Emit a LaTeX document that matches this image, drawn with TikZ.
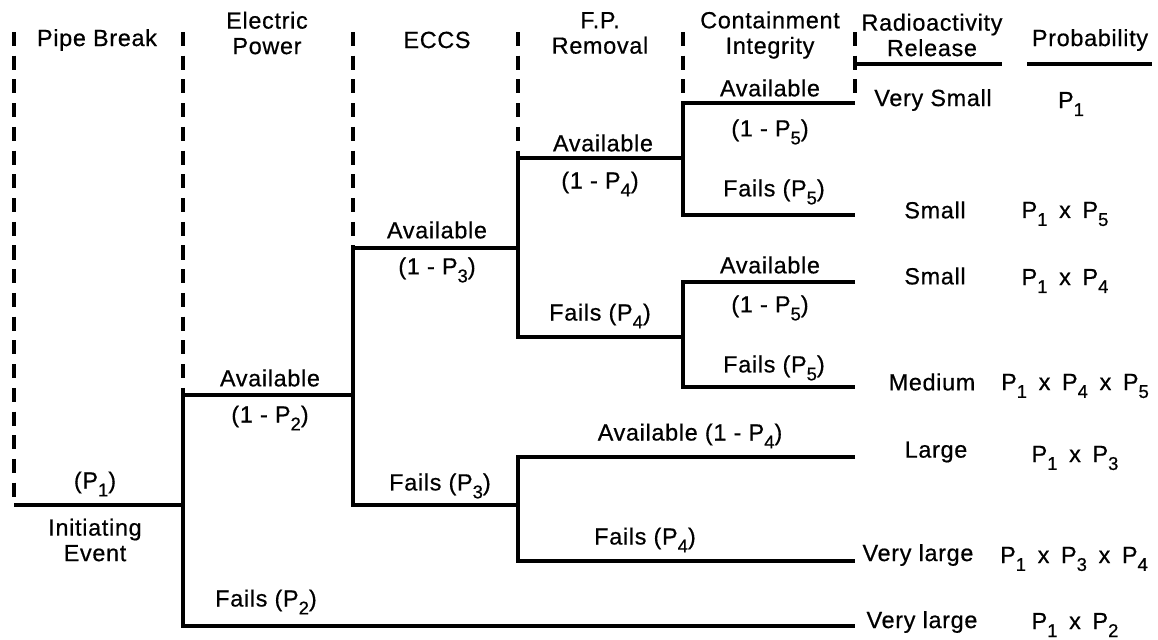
\documentclass[tikz,border=0pt]{standalone}
\usepackage{fontspec}
\setmainfont{Liberation Sans}[FakeBold=0.6, LetterSpace=3]
\usetikzlibrary{positioning,calc}
\newcommand{\Pn}[1]{P\raisebox{-4.5pt}{\fontsize{10.5}{10.5}\selectfont #1}}
\newcommand{\by}{\enspace x\enspace}
\tikzset{
    % Column dividers
    divider/.style={
        draw=black,
        line width=2pt,
        dash pattern=on 8pt off 5.5pt
    },
    % Branches of the tree
    branch/.style={
        draw=black,
        line width=2.1pt
    },
    % Column headings
    heading/.style={
        align=center,
        inner sep=0pt,
        font=\fontsize{13.3}{14.5}\selectfont
    },
    % Branch labels
    outcome/.style={
        align=center,
        inner sep=0pt,
        font=\fontsize{13.3}{14.5}\selectfont
    }
}

\begin{document}
\begin{tikzpicture}[x=0.02cm, y=-0.02cm]
    \useasboundingbox (0,0) rectangle (1158,639);

    % Tree points
    \coordinate (top) at (0,32);
    \coordinate (ie) at (14,505);
    \coordinate (s1) at (183,505);
    \coordinate (s2) at (353,395);
    \coordinate (s3) at (518,248);
    \coordinate (s4) at (518,505);
    \coordinate (s5) at (683,158);
    \coordinate (s6) at (683,337);
    \coordinate (e1) at (855,103);
    \coordinate (e2) at (855,215);
    \coordinate (e3) at (855,282);
    \coordinate (e4) at (855,387);
    \coordinate (e5) at (855,457);
    \coordinate (e6) at (855,561);
    \coordinate (e7) at (855,626);

    % Column dividers
    \draw[divider] (ie |- top) -- (ie);
    \draw[divider] (s1 |- top) -- (s2 -| s1);
    \draw[divider] (s2 |- top) -- (s3 -| s2);
    \draw[divider] (s3 |- top) -- (s5 -| s3);
    \draw[divider] (s5 |- top) -- (e1 -| s5);
    \draw[divider] (e1 |- top) -- (e1);

    % Underlines
    \coordinate (relA) at (855,64);
    \coordinate (relB) at (1002,64);
    \coordinate (probA) at (1027,64);
    \coordinate (probB) at (1152,64);
    \draw[branch] (relA) -- (relB);
    \draw[branch] (probA) -- (probB);

    % Branches
    \draw[branch] (ie) -- (s1);
    \draw[branch] (s2) -| (s1) |- (e7);
    \draw[branch] (s3) -| (s2) |- (s4);
    \draw[branch] (s5) -| (s3) |- (s6);
    \draw[branch] (e5) -| (s4) |- (e6);
    \draw[branch] (e1) -| (s5) |- (e2);
    \draw[branch] (e3) -| (s6) |- (e4);

    % Headings
    \node[heading] (hpipe) at (97,40) {Pipe Break};
    \node[heading] (hpower) at (267,33) {Electric\\Power};
    \node[heading] (heccs) at (437,40) {ECCS};
    \node[heading] (hfp) at (600,33) {F.P.\\Removal};
    \node[heading] (hci) at (770,35) {Containment\\Integrity};
    \node[heading] (hrel) at (932,35) {Radioactivity\\Release};
    \node[heading] (hprob) at (1090,40) {Probability};

    % Pipe break
    \node[outcome] (pbP) at (95,484) {(\Pn{1})};
    \node[outcome] (pbE) at (95,540) {Initiating\\Event};

    % Electric power
    \node[outcome] (epA) at (270,378) {Available};
    \node[outcome] (epAP) at (270,418) {(1 - \Pn{2})};
    \node[outcome] (epF) at (266,602) {Fails (\Pn{2})};

    % ECCS
    \node[outcome] (ecA) at (437,230) {Available};
    \node[outcome] (ecAP) at (437,270) {(1 - \Pn{3})};
    \node[outcome] (ecF) at (440,486) {Fails (\Pn{3})};

    % F.P. removal
    \node[outcome] (fpA) at (603,143) {Available};
    \node[outcome] (fpAP) at (600,184) {(1 - \Pn{4})};
    \node[outcome] (fpF) at (600,316) {Fails (\Pn{4})};
    \node[outcome] (fpA2) at (690,436) {Available (1 - \Pn{4})};
    \node[outcome] (fpF2) at (645,540) {Fails (\Pn{4})};

    % Containment integrity
    \node[outcome] (ciA) at (770,88) {Available};
    \node[outcome] (ciAP) at (770,132) {(1 - \Pn{5})};
    \node[outcome] (ciF) at (774,192) {Fails (\Pn{5})};
    \node[outcome] (ciA2) at (770,265) {Available};
    \node[outcome] (ciAP2) at (770,308) {(1 - \Pn{5})};
    \node[outcome] (ciF2) at (774,368) {Fails (\Pn{5})};

    % Radioactivity release
    \node[outcome] (r1) at (933,100) {Very Small};
    \node[outcome] (r2) at (935,210) {Small};
    \node[outcome] (r3) at (935,276) {Small};
    \node[outcome] (r4) at (932,382) {Medium};
    \node[outcome] (r5) at (936,452) {Large};
    \node[outcome] (r6) at (918,555) {Very large};
    \node[outcome] (r7) at (922,622) {Very large};

    % Probability
    \node[outcome] (q1) at (1071,104) {\Pn{1}};
    \node[outcome] (q2) at (1065,214) {\Pn{1}\by\Pn{5}};
    \node[outcome] (q3) at (1065,281) {\Pn{1}\by\Pn{4}};
    \node[outcome] (q4) at (1075,386) {\Pn{1}\by\Pn{4}\by\Pn{5}};
    \node[outcome] (q5) at (1075,458) {\Pn{1}\by\Pn{3}};
    \node[outcome] (q6) at (1074,559) {\Pn{1}\by\Pn{3}\by\Pn{4}};
    \node[outcome] (q7) at (1075,625) {\Pn{1}\by\Pn{2}};

\end{tikzpicture}
\end{document}
